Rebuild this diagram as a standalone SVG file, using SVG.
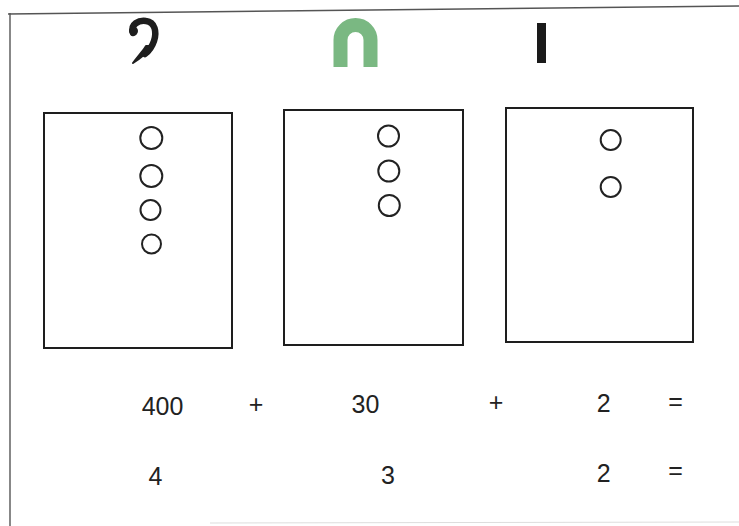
<svg xmlns="http://www.w3.org/2000/svg" width="739" height="526" viewBox="0 0 739 526">
<style>
.box{fill:none;stroke:#1e1e1e;stroke-width:2}
.dot{fill:none;stroke:#222;stroke-width:2}
.t{font-family:"Liberation Sans",Arial,sans-serif;font-size:25px;fill:#222;text-anchor:middle}
</style>
<rect width="739" height="526" fill="#fff"/>
<g id="frame">
<line x1="8" y1="14" x2="739" y2="6" stroke="#555" stroke-width="1.6"/>
<line x1="10" y1="13" x2="10" y2="526" stroke="#555" stroke-width="1.4"/>
<line x1="210" y1="523" x2="739" y2="522" stroke="#ddd" stroke-width="1"/>
</g>
<g id="glyph-hundred">
<path d="M133,33 C130,24 139,20 146,21 C155,22 157,32 154,41 C152,47 149,51 145,54" fill="none" stroke="#1e1e1e" stroke-width="6.5" stroke-linecap="round"/>
<path d="M152,46 C147,53 141,58 133,63 C139,55 143,51 146,46 Z" fill="#1e1e1e" stroke="#1e1e1e" stroke-width="2" stroke-linejoin="round"/>
<circle cx="133.5" cy="31" r="4.5" fill="#1e1e1e"/>
</g>
<g id="glyph-ten">
<path d="M340.5,67 V40 A15,15 0 0 1 370.5,40 V67" fill="none" stroke="#7ab882" stroke-width="14"/>
</g>
<g id="glyph-one">
<rect x="537" y="23" width="9" height="40" fill="#1a1a1a"/>
</g>
<g id="box-hundreds">
<rect class="box" x="44" y="113" width="188" height="235"/>
<circle class="dot" cx="151.3" cy="138" r="11"/>
<circle class="dot" cx="151.3" cy="176" r="11"/>
<circle class="dot" cx="150.5" cy="210" r="10"/>
<circle class="dot" cx="151.5" cy="244" r="9.5"/>
</g>
<g id="box-tens">
<rect class="box" x="284" y="110" width="179" height="235"/>
<circle class="dot" cx="388.5" cy="136" r="10.5"/>
<circle class="dot" cx="388.8" cy="171" r="10.5"/>
<circle class="dot" cx="389.3" cy="205.5" r="10.5"/>
</g>
<g id="box-ones">
<rect class="box" x="506" y="108" width="187" height="234"/>
<circle class="dot" cx="610.7" cy="140" r="10"/>
<circle class="dot" cx="610.7" cy="187" r="10"/>
</g>
<g id="row1">
<text class="t" x="162.5" y="415">400</text>
<text class="t" x="256" y="413">+</text>
<text class="t" x="365.5" y="413">30</text>
<text class="t" x="496" y="410.5">+</text>
<text class="t" x="603.7" y="411.5">2</text>
<text class="t" x="675.5" y="410">=</text>
</g>
<g id="row2">
<text class="t" x="155.5" y="485">4</text>
<text class="t" x="388" y="483.5">3</text>
<text class="t" x="603.7" y="481.5">2</text>
<text class="t" x="675.5" y="479">=</text>
</g>
</svg>
